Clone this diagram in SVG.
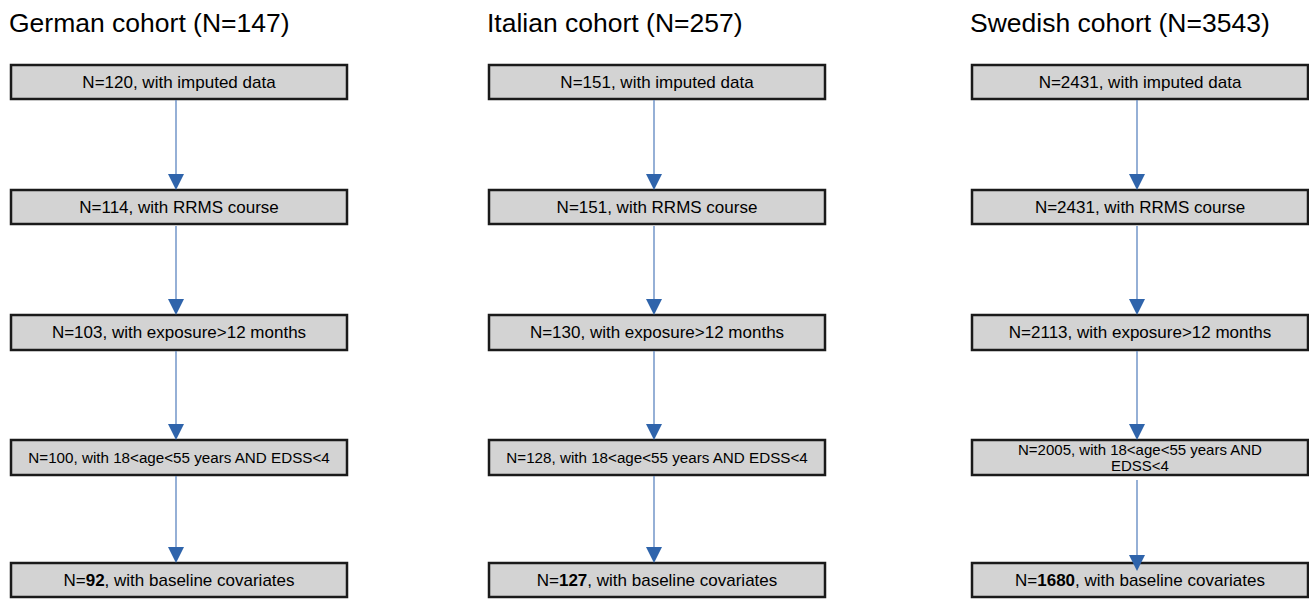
<svg xmlns="http://www.w3.org/2000/svg" width="1309" height="599" viewBox="0 0 1309 599">
<style>
.title{font-family:"Liberation Sans",Arial,sans-serif;font-size:26.5px;fill:#000}
.box rect{fill:#d3d3d3;stroke:#1a1a1a;stroke-width:2.5}
.box text{font-family:"Liberation Sans",Arial,sans-serif;font-size:17px;fill:#000;text-anchor:middle}
.box text.sm{font-size:15.2px}
.box text.sm2{font-size:15px}
.conn line{stroke:#5d86c0;stroke-width:1.3}
.conn polygon{fill:#2f64ab}
</style>
<rect width="1309" height="599" fill="#fff"/>
<text class="title" x="9" y="32">German cohort (N=147)</text>
<text class="title" x="487" y="32">Italian cohort (N=257)</text>
<text class="title" x="970" y="32">Swedish cohort (N=3543)</text>

<g id="g1" class="box"><rect x="11" y="65" width="336" height="34"/><text x="179" y="88">N=120, with imputed data</text></g>
<g id="g2" class="box"><rect x="11" y="190" width="336" height="34"/><text x="179" y="213">N=114, with RRMS course</text></g>
<g id="g3" class="box"><rect x="11" y="315" width="336" height="35"/><text x="179" y="338">N=103, with exposure&gt;12 months</text></g>
<g id="g4" class="box"><rect x="11" y="440" width="336" height="35"/><text class="sm" x="179" y="463">N=100, with 18&lt;age&lt;55 years AND EDSS&lt;4</text></g>
<g id="g5" class="box"><rect x="11" y="563" width="336" height="34"/><text x="179" y="586">N=<tspan font-weight="bold">92</tspan>, with baseline covariates</text></g>

<g id="i1" class="box"><rect x="489" y="65" width="336" height="34"/><text x="657" y="88">N=151, with imputed data</text></g>
<g id="i2" class="box"><rect x="489" y="190" width="336" height="34"/><text x="657" y="213">N=151, with RRMS course</text></g>
<g id="i3" class="box"><rect x="489" y="315" width="336" height="35"/><text x="657" y="338">N=130, with exposure&gt;12 months</text></g>
<g id="i4" class="box"><rect x="489" y="440" width="336" height="35"/><text class="sm" x="657" y="463">N=128, with 18&lt;age&lt;55 years AND EDSS&lt;4</text></g>
<g id="i5" class="box"><rect x="489" y="563" width="336" height="34"/><text x="657" y="586">N=<tspan font-weight="bold">127</tspan>, with baseline covariates</text></g>

<g id="s1" class="box"><rect x="972" y="65" width="336" height="34"/><text x="1140" y="88">N=2431, with imputed data</text></g>
<g id="s2" class="box"><rect x="972" y="190" width="336" height="34"/><text x="1140" y="213">N=2431, with RRMS course</text></g>
<g id="s3" class="box"><rect x="972" y="315" width="336" height="35"/><text x="1140" y="338">N=2113, with exposure&gt;12 months</text></g>
<g id="s4" class="box"><rect x="972" y="440" width="336" height="35"/><text class="sm2" x="1140" y="455">N=2005, with 18&lt;age&lt;55 years AND</text><text class="sm2" x="1140" y="471">EDSS&lt;4</text></g>
<g id="s5" class="box"><rect x="972" y="563" width="336" height="34"/><text x="1140" y="586">N=<tspan font-weight="bold">1680</tspan>, with baseline covariates</text></g>

<g id="connectors" class="conn">
  <line x1="176" y1="100" x2="176" y2="178"/><polygon points="168,174 184,174 176,190"/>
  <line x1="176" y1="226" x2="176" y2="303"/><polygon points="168,299 184,299 176,315"/>
  <line x1="176" y1="351" x2="176" y2="428"/><polygon points="168,424 184,424 176,440"/>
  <line x1="176" y1="476" x2="176" y2="551"/><polygon points="168,547 184,547 176,563"/>

  <line x1="654" y1="100" x2="654" y2="178"/><polygon points="646,174 662,174 654,190"/>
  <line x1="654" y1="226" x2="654" y2="303"/><polygon points="646,299 662,299 654,315"/>
  <line x1="654" y1="351" x2="654" y2="428"/><polygon points="646,424 662,424 654,440"/>
  <line x1="654" y1="476" x2="654" y2="551"/><polygon points="646,547 662,547 654,563"/>

  <line x1="1137" y1="100" x2="1137" y2="178"/><polygon points="1129,174 1145,174 1137,190"/>
  <line x1="1137" y1="226" x2="1137" y2="303"/><polygon points="1129,299 1145,299 1137,315"/>
  <line x1="1137" y1="351" x2="1137" y2="428"/><polygon points="1129,424 1145,424 1137,440"/>
  <line x1="1137" y1="480" x2="1137" y2="558"/><polygon points="1129,555 1145,555 1137,571"/>
</g>
</svg>
